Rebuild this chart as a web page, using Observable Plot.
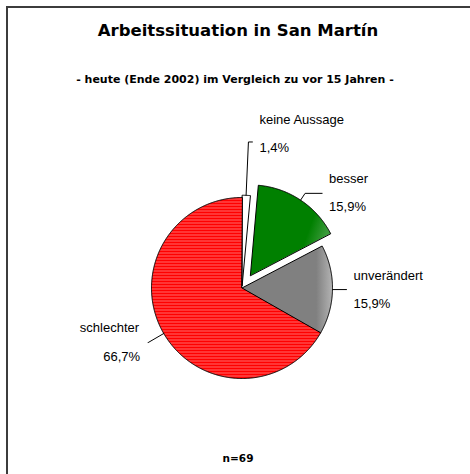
<!DOCTYPE html>
<html><head><meta charset="utf-8">
<script src="https://cdn.jsdelivr.net/npm/d3@7"></script>
<script src="https://cdn.jsdelivr.net/npm/@observablehq/plot@0.6"></script>
<style>
body{margin:0;background:#fff;}
#wrap{position:relative;width:470px;height:474px;overflow:hidden;background:#fff;}
#frame{position:absolute;left:6px;top:6px;width:480px;height:480px;border-top:2px solid #3c3c3c;border-left:2px solid #3c3c3c;}
#chart{position:absolute;left:0;top:0;}
.t{position:absolute;width:470px;text-align:center;font-family:"DejaVu Sans";font-weight:bold;line-height:1;color:#000;white-space:nowrap;}
</style></head><body>
<div id="wrap">
<div id="frame"></div>
<div id="chart"></div>
<div class="t" style="left:3px;top:23px;font-size:16.5px">Arbeitssituation in San Martín</div>
<div class="t" style="left:0px;top:74px;font-size:11px">- heute (Ende 2002) im Vergleich zu vor 15 Jahren -</div>
<div class="t" id="n" style="left:3px;top:453px;font-size:10.5px"></div>
</div>
<script>
// ---- data ----
const categories = ["keine Aussage", "besser", "unverändert", "schlechter"];
const shares = [1.4, 15.9, 15.9, 66.7];
const shareLabels = ["1,4%", "15,9%", "15,9%", "66,7%"];
const sampleSize = 69;

// ---- layout (not data) ----
const R = 90.5; // px per radius unit
const explode = {"keine Aussage": 0.025, "besser": 0.167, "unverändert": 0, "schlechter": 0};
const leader = {
  "keine Aussage": {r: 1.59, tail: 4, side: 1, shift: 8},
  "besser": {r: 1.09, tail: 17, side: 1, shift: 0},
  "unverändert": {r: 1.0, tail: 14, side: 1, shift: 0},
  "schlechter": {r: 1.2, tail: 0, side: -1, shift: 0}
};

document.getElementById("n").textContent = "n=" + sampleSize;

const rows = categories.map((c, i) => ({cat: c, value: shares[i], label: shareLabels[i]}));
const arcs = d3.pie().sort(null).value(d => d.value)(rows);

const slicePts = [];
const leaderPts = [];
const labelRows = [];
for (const a of arcs) {
  const c = a.data.cat;
  const mid = (a.startAngle + a.endAngle) / 2;
  const ox = explode[c] * Math.sin(mid), oy = explode[c] * Math.cos(mid);
  slicePts.push({cat: c, x: ox, y: oy});
  const n = Math.max(2, Math.ceil((a.endAngle - a.startAngle) / (Math.PI / 360)));
  for (let k = 0; k <= n; k++) {
    const t = a.startAngle + (a.endAngle - a.startAngle) * k / n;
    slicePts.push({cat: c, x: ox + Math.sin(t), y: oy + Math.cos(t)});
  }
  const L = leader[c];
  const sx = ox + Math.sin(mid), sy = oy + Math.cos(mid);
  const ex = ox + L.r * Math.sin(mid), ey = oy + L.r * Math.cos(mid);
  const tx = ex + L.side * L.tail / R;
  leaderPts.push({cat: c, x: sx, y: sy}, {cat: c, x: ex, y: ey}, {cat: c, x: tx, y: ey});
  labelRows.push({cat: c, label: a.data.label, side: L.side, x: tx, y: ey + L.shift / R});
}

const right = labelRows.filter(d => d.side > 0);
const left = labelRows.filter(d => d.side < 0);
const txt = {fontSize: 13, lineAnchor: "bottom", fill: "#000"};

const chart = Plot.plot({
  width: 470, height: 474, margin: 0,
  x: {domain: [-1, 1], range: [151, 332], axis: null},
  y: {domain: [-1, 1], range: [378, 197], axis: null},
  color: {domain: categories, range: ["#ffffff", "url(#greentex)", "url(#graytex)", "url(#redtex)"]},
  style: {background: "transparent", fontFamily: "'Liberation Sans', Arial, sans-serif", overflow: "visible"},
  marks: [
    Plot.line(slicePts, {x: "x", y: "y", z: "cat", fill: "cat", stroke: "#000", strokeWidth: 1, curve: "linear-closed"}),
    Plot.line(leaderPts, {x: "x", y: "y", z: "cat", stroke: "#000", strokeWidth: 1}),
    Plot.text(right, {x: "x", y: "y", text: "cat", textAnchor: "start", dx: 7, dy: -10, ...txt}),
    Plot.text(right, {x: "x", y: "y", text: "label", textAnchor: "start", dx: 7, dy: 18, ...txt}),
    Plot.text(left, {x: "x", y: "y", text: "cat", textAnchor: "end", dx: -9, dy: -11, ...txt}),
    Plot.text(left, {x: "x", y: "y", text: "label", textAnchor: "end", dx: -8, dy: 18, ...txt})
  ]
});
// fill textures (styling only)
const defs = d3.create("svg:defs");
const pat = defs.append("pattern").attr("id", "redtex").attr("patternUnits", "userSpaceOnUse").attr("width", 6).attr("height", 3);
pat.append("rect").attr("width", 6).attr("height", 3).attr("fill", "#ff0000");
pat.append("rect").attr("width", 6).attr("height", 1).attr("fill", "#ff6a6a");
const gg = defs.append("linearGradient").attr("id", "graytex").attr("x1", 0).attr("x2", 1).attr("y1", 0).attr("y2", 0);
gg.append("stop").attr("offset", "0.82").attr("stop-color", "#808080");
gg.append("stop").attr("offset", "1").attr("stop-color", "#b4b4b4");
const gr = defs.append("linearGradient").attr("id", "greentex").attr("x1", 0).attr("x2", 1).attr("y1", 0).attr("y2", 0.4);
gr.append("stop").attr("offset", "0.8").attr("stop-color", "#008000");
gr.append("stop").attr("offset", "1").attr("stop-color", "#3a9a3a");
chart.insertBefore(defs.node(), chart.firstChild);
document.getElementById("chart").appendChild(chart);
</script>
</body></html>
